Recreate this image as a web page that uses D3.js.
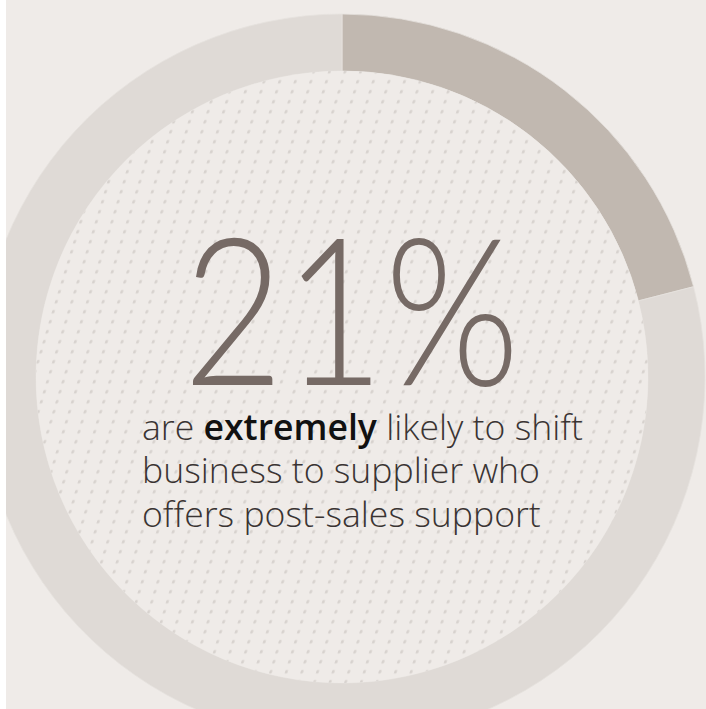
<!DOCTYPE html>
<html><head><meta charset="utf-8">
<script src="https://cdn.jsdelivr.net/npm/d3@7/dist/d3.min.js"></script>
<style>html,body{margin:0;padding:0;background:#fff;}svg{display:block;}</style>
</head><body>
<div id="chart"></div>
<script>
const categories = ["Extremely likely", "Other"];
const values = [21, 79];
const bigLabel = "21%";
const captionLines = [
  [{t:"are ", b:false},{t:"extremely", b:true},{t:" likely to shift", b:false}],
  [{t:"business to supplier who", b:false}],
  [{t:"offers post-sales support", b:false}]
];

const W = 706, H = 709;
const svg = d3.select("#chart").append("svg").attr("width", W).attr("height", H);
const defs = svg.append("defs");
defs.append("clipPath").attr("id","area").append("rect").attr("x",6).attr("y",0).attr("width",W-6).attr("height",H);
const pat = defs.append("pattern").attr("id","dots").attr("patternUnits","userSpaceOnUse")
  .attr("width",15.6).attr("height",10).attr("patternTransform","skewX(-17)");
pat.append("rect").attr("width",15.6).attr("height",10).attr("fill","#efebe8");
pat.append("rect").attr("x",2).attr("y",3).attr("width",2.6).attr("height",3.6).attr("rx",1).attr("fill","#d7d2ce");

svg.append("rect").attr("x",6).attr("y",0).attr("width",W-6).attr("height",H).attr("fill","#efebe8");

const cx = 342, cy = 377, rIn = 306, rOut = 363;
const g = svg.append("g").attr("clip-path","url(#area)").append("g").attr("transform",`translate(${cx},${cy})`);
const color = d3.scaleOrdinal().domain(categories).range(["#c1b8b0","#dfdad6"]);
const pie = d3.pie().sort(null).value(d=>d.v);
const arc = d3.arc().innerRadius(rIn).outerRadius(rOut);
g.selectAll("path").data(pie(categories.map((c,i)=>({c, v:values[i]})))).join("path")
  .attr("d",arc).attr("fill",d=>color(d.data.c)).attr("stroke","#e6e2de").attr("stroke-width",0.8);
g.append("circle").attr("r",rIn).attr("fill","url(#dots)");

svg.append("text").attr("x",183).attr("y",385).attr("font-family","Lato, 'Open Sans', sans-serif")
  .attr("font-weight",300).attr("font-size",205).attr("fill","#766a65")
  .attr("textLength",337).attr("lengthAdjust","spacingAndGlyphs").text(bigLabel);

const ys = [440, 483, 527];
captionLines.forEach((line,i)=>{
  const t = svg.append("text").attr("x",142).attr("y",ys[i]).attr("font-family","'Open Sans', sans-serif")
    .attr("font-size",35.6).attr("fill","#3a3433");
  line.forEach(s=>t.append("tspan").attr("font-weight",s.b?600:300).attr("fill",s.b?"#111":"#3a3433").text(s.t));
});
</script>
</body></html>
